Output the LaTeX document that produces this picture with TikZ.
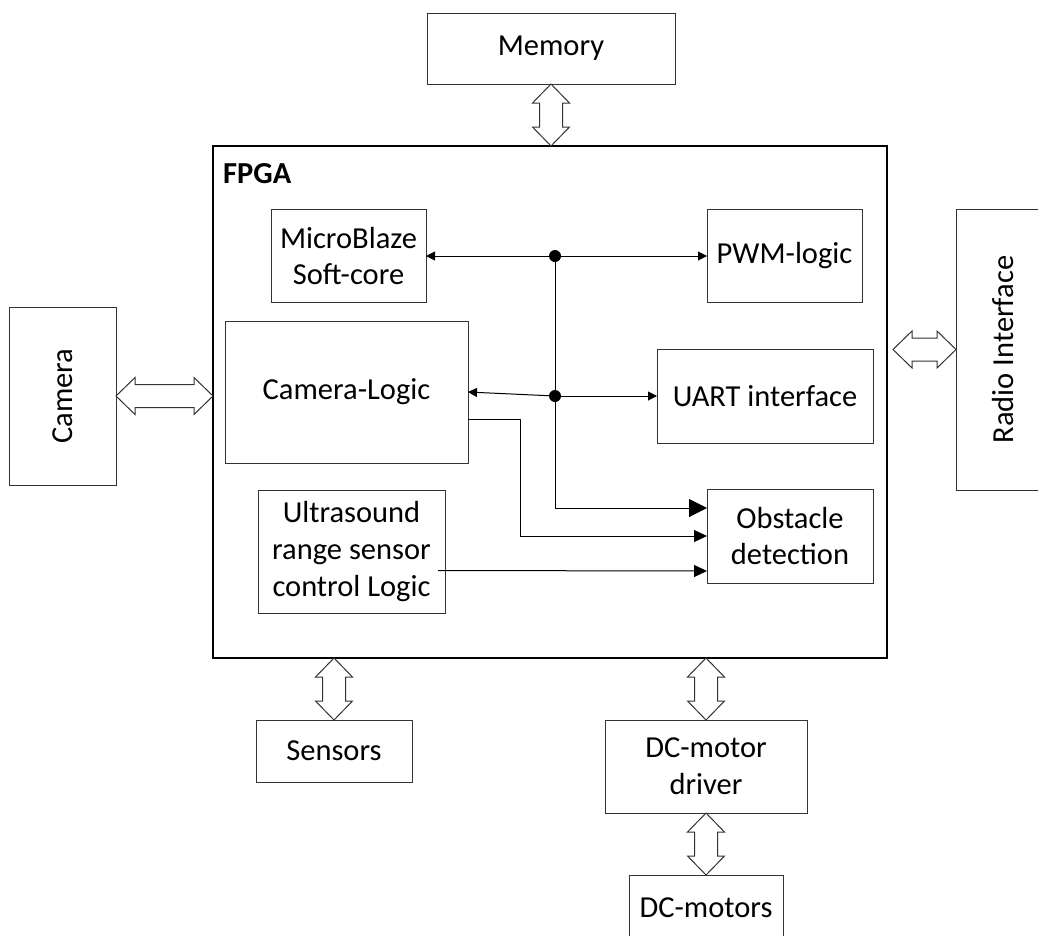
\documentclass[tikz,border=0pt]{standalone}
\usepackage{fontspec}
\setmainfont{Carlito}
\usetikzlibrary{arrows.meta, calc}

\tikzset{
  blk/.style={draw=black!80, line width=1pt, inner sep=0pt, outer sep=0pt,
    align=center, font=\fontsize{30.5}{36.7}\selectfont},
  chip/.style={draw=black, line width=2pt, inner sep=0pt, outer sep=0pt},
  lbl/.style={inner sep=0pt, font=\fontsize{30.5}{36.7}\selectfont\bfseries},
  dot/.style={circle, fill=black, inner sep=0pt, minimum size=12pt},
  sig/.style={line width=1pt, -{Triangle[length=9pt, width=9pt]}},
  sigmid/.style={line width=1pt, -{Triangle[length=13pt, width=12pt]}},
  sigbig/.style={line width=1pt, -{Triangle[length=18pt, width=18pt]}},
  bus/.style={draw=black!80, line width=1pt, fill=white, line join=miter}
}

% hollow double arrows (top to bottom / left to right)
\newcommand{\vbus}[2]{%
  \draw[bus] (#1) -- ++(18.5,19) -- ++(-7,0) -- ($(#2)+(11.5,-19)$) -- ++(7,0)
    -- (#2) -- ++(-18.5,-19) -- ++(7,0) -- ($(#1)+(-11.5,19)$) -- ++(-7,0) -- cycle;}
\newcommand{\hbus}[2]{%
  \draw[bus] (#1) -- ++(19,-18.5) -- ++(0,7) -- ($(#2)+(-19,-11.5)$) -- ++(0,-7)
    -- (#2) -- ++(-19,18.5) -- ++(0,-7) -- ($(#1)+(19,11.5)$) -- ++(0,7) -- cycle;}

\begin{document}
\begin{tikzpicture}[x=1pt, y=-1pt]
  \useasboundingbox (0,0) rectangle (1038,935);

  % outer blocks
  \node[chip, minimum width=674pt, minimum height=512pt] (fpga) at (550,402) {};
  \node[lbl, anchor=base west] (fpgalbl) at ([xshift=10pt, yshift=-37pt]fpga.north west) {FPGA};
  \node[blk, minimum width=248pt, minimum height=71pt] (mem) at (551,48.5) {Memory};
  \node[blk, minimum width=107pt, minimum height=178pt] (cam) at (62.5,396) {\rotatebox{90}{Camera}};
  \node[blk, minimum width=94pt, minimum height=281pt] (radio) at (1003,349.5) {\rotatebox{90}{Radio Interface}};
  \node[blk, minimum width=156pt, minimum height=62pt] (sens) at (334,751) {Sensors};
  \node[blk, minimum width=202pt, minimum height=93pt] (drv) at (706,766.5) {DC-motor\\driver};
  \node[blk, minimum width=154pt, minimum height=66pt] (mot) at (706,908) {DC-motors};

  % inside the FPGA
  \node[blk, minimum width=155pt, minimum height=93pt] (mb) at (348.5,256) {MicroBlaze\\Soft-core};
  \node[blk, minimum width=155pt, minimum height=93pt] (pwm) at (784.5,256) {PWM-logic};
  \node[blk, minimum width=243pt, minimum height=142pt] (camlogic) at (346.5,392) {Camera-Logic};
  \node[blk, minimum width=216pt, minimum height=94pt] (uart) at (765,396) {UART interface};
  \node[blk, minimum width=187pt, minimum height=123pt] (us) at (351.5,551.5) {Ultrasound\\range sensor\\control Logic};
  \node[blk, minimum width=166pt, minimum height=94pt] (obst) at (790,536) {Obstacle\\detection};

  \node[dot] (j1) at (555,256) {};
  \node[dot] (j2) at (555,396) {};

  % internal bus
  \draw[sig] (j1) -- (mb.east);
  \draw[sig] (j1) -- (pwm.west);
  \draw[line width=1pt] (j1) -- (j2);
  \draw[sig] (j2) -- (uart.west);
  \draw[sig] (j2) -- (camlogic.east);
  \draw[sigbig] (j2) |- ([yshift=28pt]obst.west);
  \draw[sigmid] ([yshift=-27pt]camlogic.east) -- ++(52,0) |- (obst.west);
  \draw[sigmid] ([xshift=-7pt, yshift=-19pt]us.east) -- ([yshift=-35pt]obst.west);

  % external links
  \vbus{mem.south}{mem.south |- fpga.north}
  \hbus{cam.east}{cam.east -| fpga.west}
  \coordinate (rport) at ($(fpga.east |- radio.west)+(6,0)$);
  \hbus{rport}{radio.west}
  \vbus{sens.north |- fpga.south}{sens.north}
  \vbus{drv.north |- fpga.south}{drv.north}
  \vbus{drv.south}{mot.north}
\end{tikzpicture}
\end{document}
